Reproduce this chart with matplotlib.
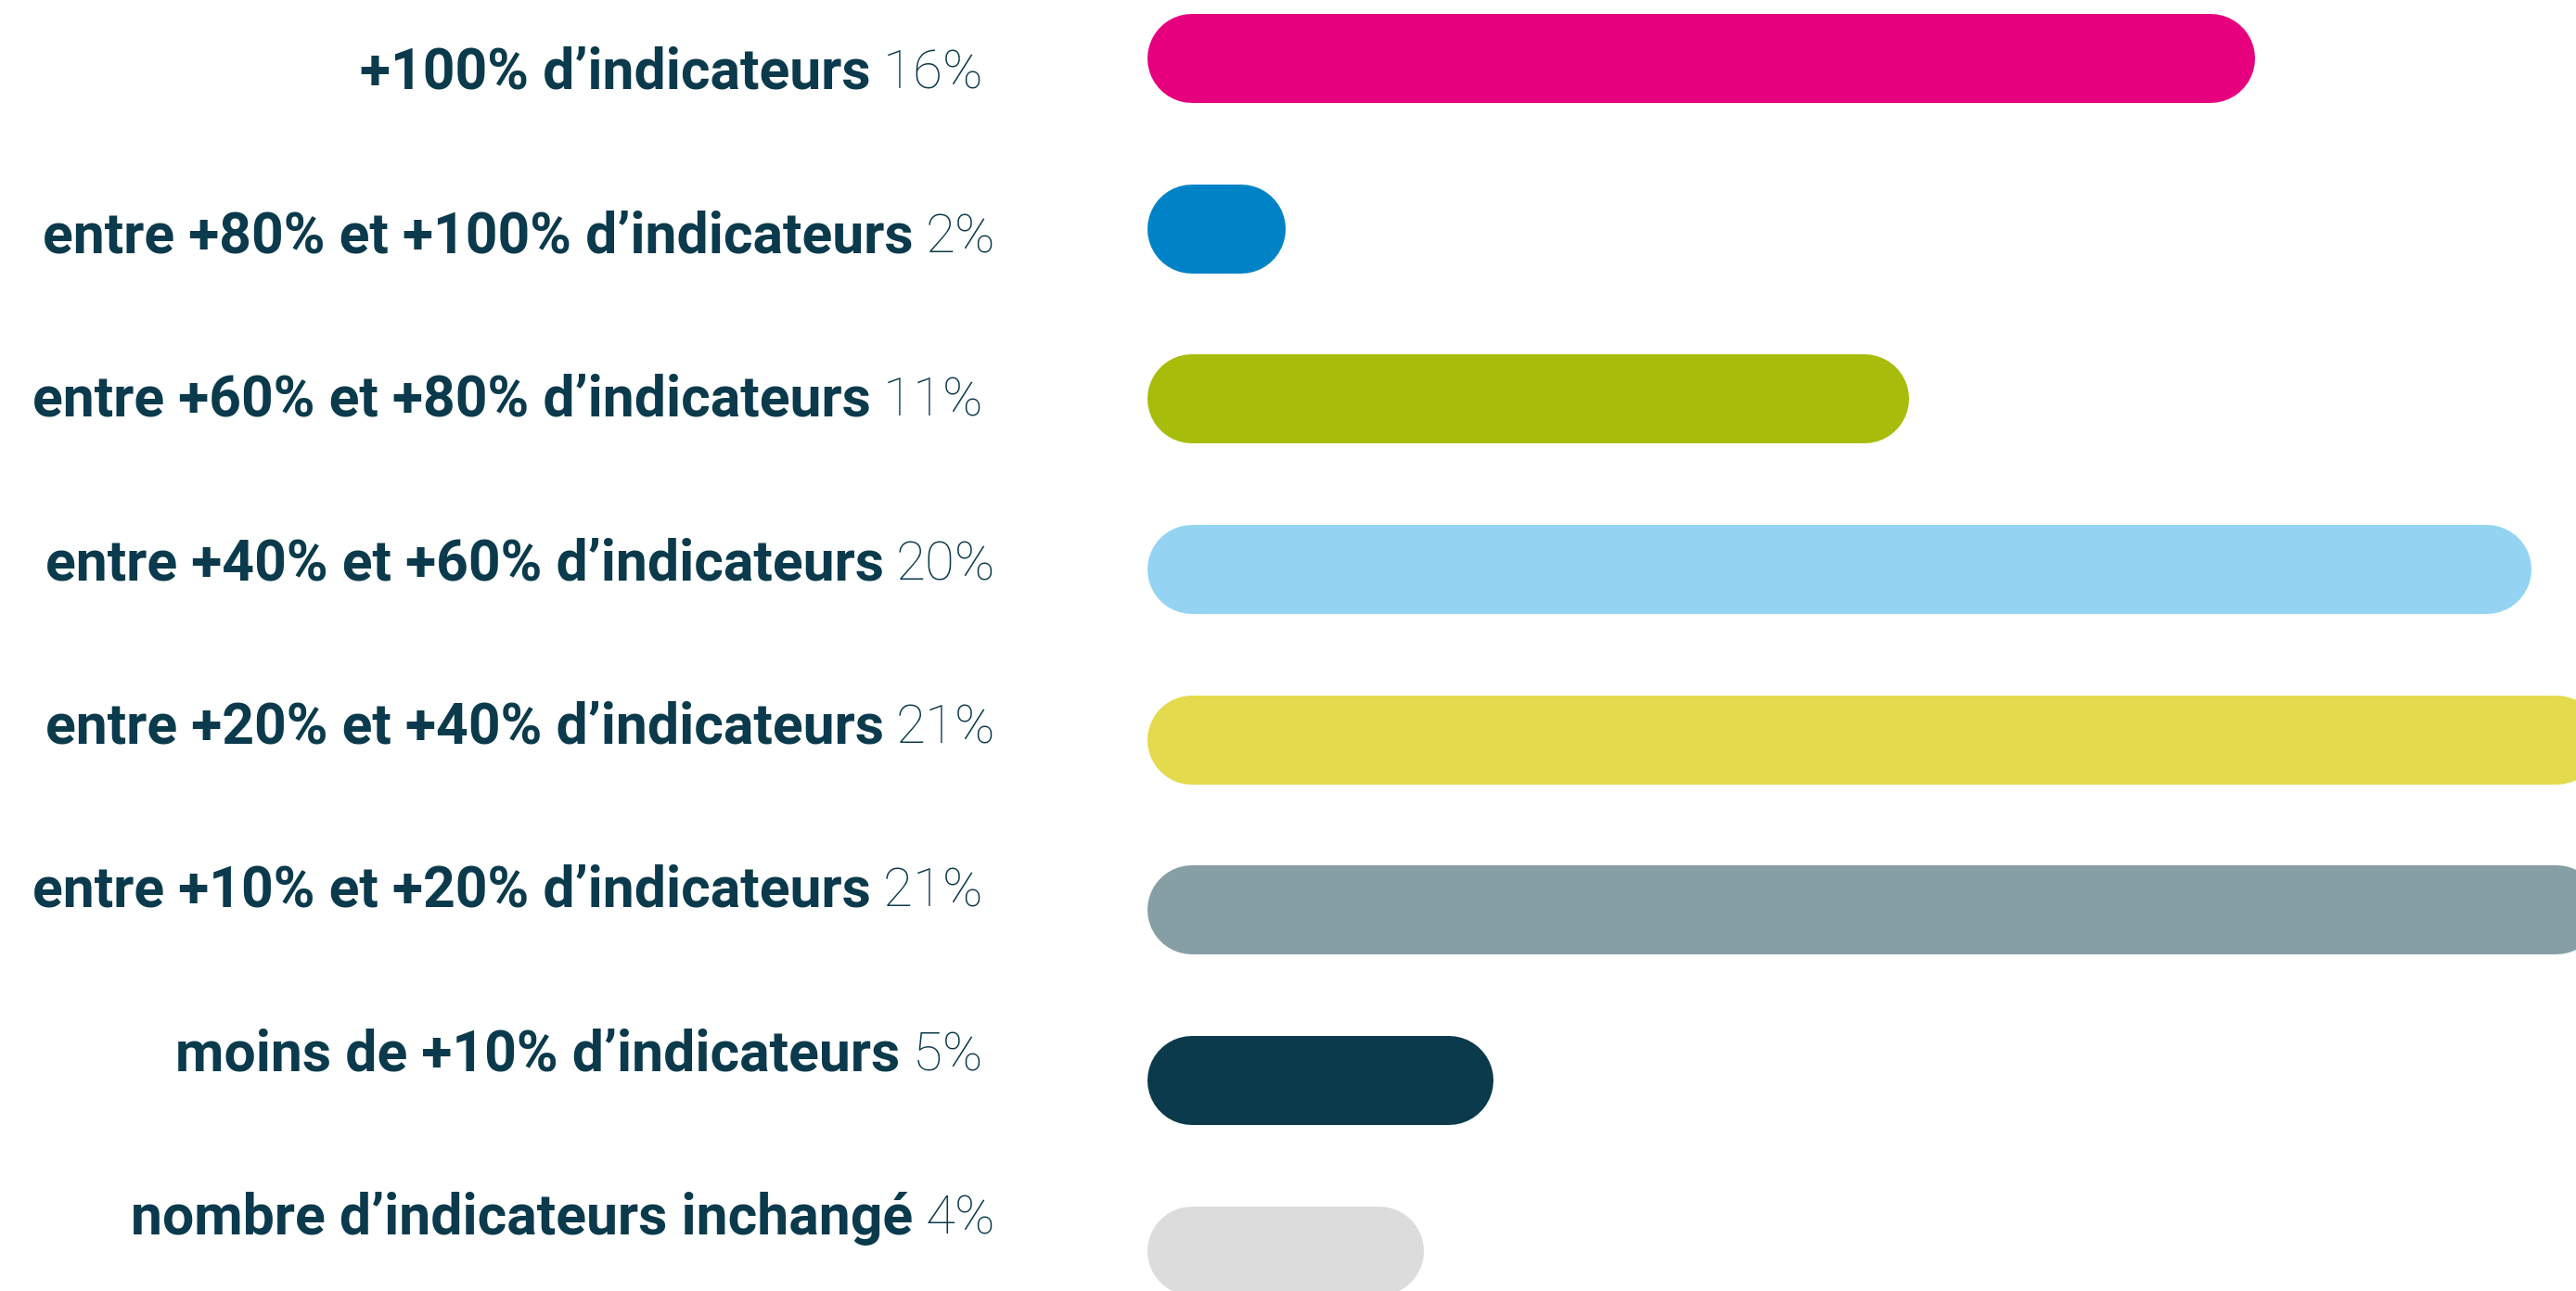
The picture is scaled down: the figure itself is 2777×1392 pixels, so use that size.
import matplotlib
matplotlib.use("Agg")
import matplotlib.pyplot as plt

# ---- data ----
categories = [
    "+100% d’indicateurs",
    "entre +80% et +100% d’indicateurs",
    "entre +60% et +80% d’indicateurs",
    "entre +40% et +60% d’indicateurs",
    "entre +20% et +40% d’indicateurs",
    "entre +10% et +20% d’indicateurs",
    "moins de +10% d’indicateurs",
    "nombre d’indicateurs inchangé",
]
values = [16, 2, 11, 20, 21, 21, 5, 4]
value_labels = ["16% ", "2%", "11% ", "20%", "21%", "21% ", "5% ", "4%"]
colors = ["#E6007E", "#0083C6", "#A8BC0B", "#94D4F2", "#E3DA4D",
          "#859FA5", "#0A3A4B", "#DCDCDC"]

TEXT_COLOR = "#0A3A4B"
W, H, DPI = 2777, 1392, 100

fig = plt.figure(figsize=(W / DPI, H / DPI), dpi=DPI)
fig.patch.set_facecolor("white")

x0_px = 1237
px_per_unit = 74.6
ax = fig.add_axes([x0_px / W, 0, 1 - x0_px / W, 1])
ax.set_xlim(0, (W - x0_px) / px_per_unit)
row0, row_step = 63, 183.7
ax.set_ylim((H - row0) / row_step, -row0 / row_step)
ax.axis("off")

bar_h_px = 96
r_data = (bar_h_px / 2) / px_per_unit
lw_pt = bar_h_px * 72 / DPI
for i, (v, c) in enumerate(zip(values, colors)):
    ax.plot([r_data, v - r_data], [i, i], color=c, lw=lw_pt,
            solid_capstyle="round", clip_on=True)

# ---- labels ----
renderer = fig.canvas.get_renderer()
right_px = 1073
base0, base_step = 96, 176.4
fs_bold, fs_light = 43.7, 42
for i, (cat, vl) in enumerate(zip(categories, value_labels)):
    yb = 1 - (base0 + i * base_step) / H
    t = fig.text(right_px / W, yb, vl, ha="right", va="baseline",
                 fontsize=fs_light, fontfamily="Roboto", fontweight="light",
                 color=TEXT_COLOR)
    bb = t.get_window_extent(renderer=renderer)
    fig.text((bb.x0 - 13) / W, yb, cat, ha="right", va="baseline",
             fontsize=fs_bold, fontfamily="Roboto", fontweight="bold",
             color=TEXT_COLOR)

fig.savefig("out.png", dpi=DPI, facecolor="white")
